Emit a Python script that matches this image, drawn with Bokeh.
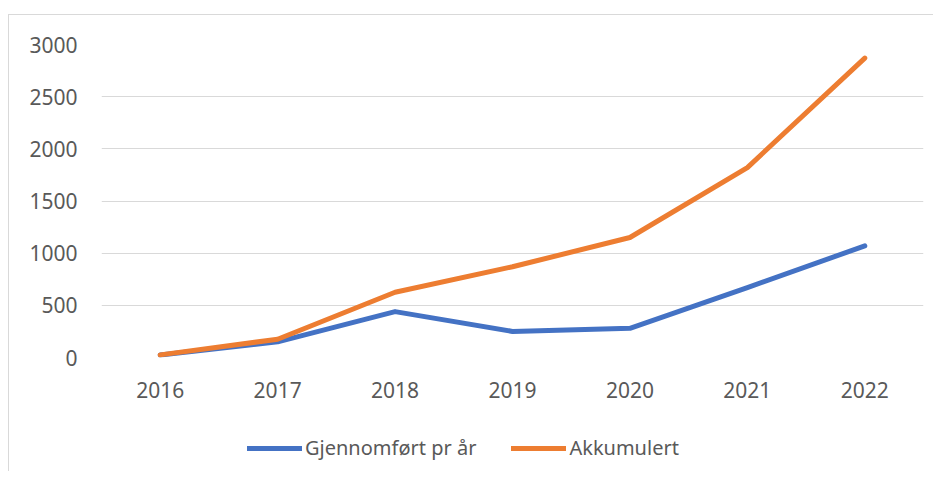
from bokeh.plotting import figure
from bokeh.models import Range1d, FixedTicker, Legend, LegendItem
from bokeh.layouts import column
from bokeh.embed import file_html
from bokeh.resources import INLINE

years = ["2016", "2017", "2018", "2019", "2020", "2021", "2022"]
per_year = [25, 150, 440, 250, 280, 670, 1070]
cumulative = [25, 175, 625, 870, 1150, 1820, 2870]
y_ticks = [0, 500, 1000, 1500, 2000, 2500, 3000]
label_per_year = "Gjennomført pr år"
label_cum = "Akkumulert"

FONT = "Noto Sans"
TXT = "#595959"
BLUE = "#4472C4"
ORANGE = "#ED7D31"

p = figure(x_range=years, y_range=Range1d(0, 3000), width=933, height=420,
           output_backend="svg", toolbar_location=None,
           min_border_left=101, min_border_right=10, min_border_top=44, min_border_bottom=63)
p.outline_line_color = None
p.background_fill_color = "white"
p.border_fill_alpha = 0

p.line(years, per_year, line_color=BLUE, line_width=5, line_cap="round", line_join="round")
p.line(years, cumulative, line_color=ORANGE, line_width=5, line_cap="round", line_join="round")

p.xgrid.grid_line_color = None
p.ygrid.grid_line_color = "#D9D9D9"
p.ygrid.grid_line_width = 1
p.yaxis.ticker = FixedTicker(ticks=y_ticks)

for ax in (p.xaxis[0], p.yaxis[0]):
    ax.axis_line_color = None
    ax.major_tick_line_color = None
    ax.minor_tick_line_color = None
    ax.major_label_text_font = FONT
    ax.major_label_text_font_size = "21px"
    ax.major_label_text_color = TXT
p.yaxis.major_label_standoff = 18
p.xaxis.major_label_standoff = 18

# legend strip below the chart (its renderers sit outside its visible range)
pl = figure(x_range=Range1d(0, 1), y_range=Range1d(0, 1), width=933, height=51,
            output_backend="svg", toolbar_location=None, min_border=0)
pl.axis.visible = False
pl.grid.visible = False
pl.outline_line_color = None
pl.background_fill_alpha = 0
pl.border_fill_alpha = 0
l1 = pl.line([5, 6], [5, 6], line_color=BLUE, line_width=5, line_cap="round")
l2 = pl.line([5, 6], [5, 6], line_color=ORANGE, line_width=5, line_cap="round")

legend = Legend(items=[LegendItem(label=label_per_year, renderers=[l1]),
                       LegendItem(label=label_cum, renderers=[l2])],
                orientation="horizontal", location=(146, 10),
                border_line_color=None, background_fill_alpha=0,
                label_text_font=FONT, label_text_font_size="20px", label_text_color=TXT,
                glyph_width=55, glyph_height=20, label_standoff=3, spacing=35,
                padding=0, margin=0)
pl.add_layout(legend, "center")

layout = column(p, pl, spacing=0)
layout.styles = {
    "background-color": "white",
    "background-image": "linear-gradient(#D9D9D9, #D9D9D9), linear-gradient(#D9D9D9, #D9D9D9)",
    "background-size": "1px 100%, 100% 1px",
    "background-position": "8px 14px, 8px 14px",
    "background-repeat": "no-repeat",
}

open("out.html", "w").write(file_html(layout, INLINE))
